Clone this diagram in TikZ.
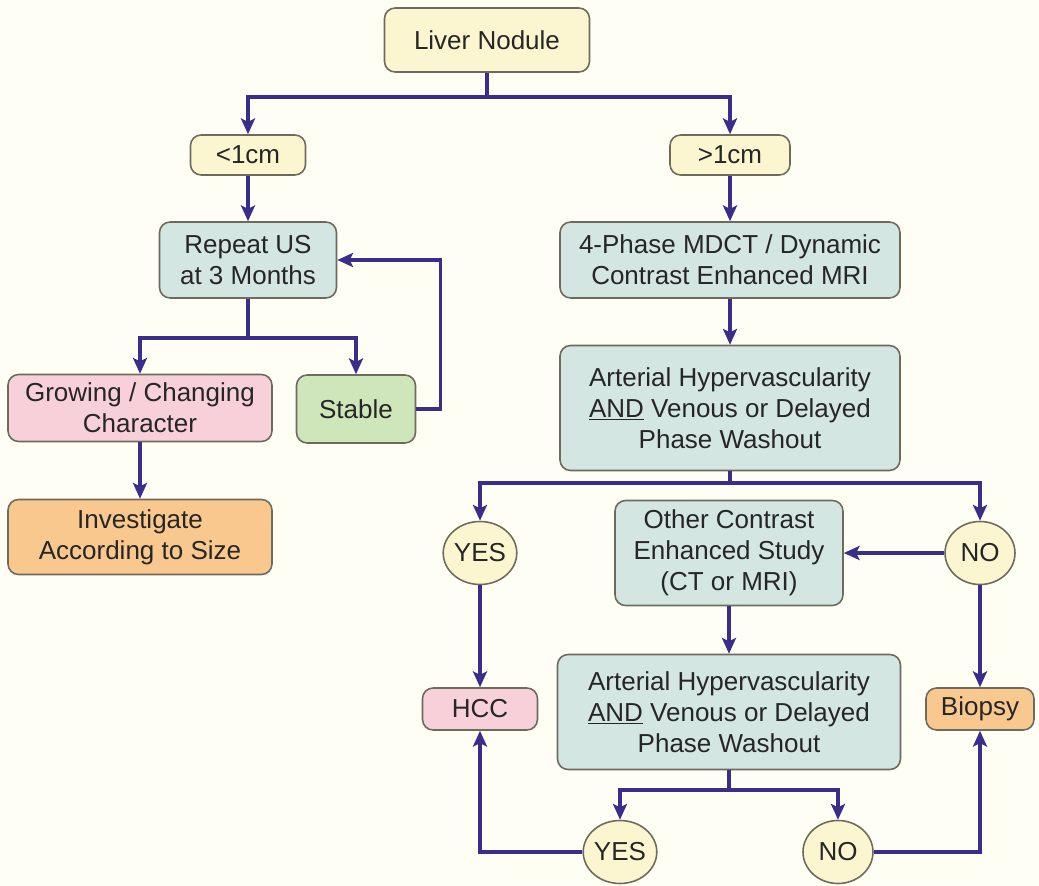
\documentclass[tikz,border=0pt]{standalone}
\usepackage{fontspec}
\setmainfont{Liberation Sans}
\usetikzlibrary{arrows.meta,shapes.geometric}

\definecolor{bgcream}{HTML}{FEFEF5}
\definecolor{boxline}{HTML}{6E6A5C}
\definecolor{flowblue}{HTML}{3A2D8C}
\definecolor{yellowfill}{HTML}{FCF6D0}
\definecolor{tealfill}{HTML}{D3E6E1}
\definecolor{pinkfill}{HTML}{F7D0D9}
\definecolor{greenfill}{HTML}{CFE5BA}
\definecolor{orangefill}{HTML}{F8C88E}
\definecolor{textgray}{HTML}{262626}

\begin{document}
\begin{tikzpicture}
          [x=0.02cm,y=-0.02cm,
           every node/.style={draw=boxline,line width=0.9pt,rounded corners=6pt,align=center,
             text=textgray,font=\fontsize{14.8}{17.5}\selectfont,inner sep=0pt},
           yellowbox/.style={fill=yellowfill},
           tealbox/.style={fill=tealfill},
           pinkbox/.style={fill=pinkfill},
           greenbox/.style={fill=greenfill},
           orangebox/.style={fill=orangefill},
           answer/.style={ellipse,fill=yellowfill,rounded corners=0pt,minimum width=1.4cm,minimum height=1.26cm},
           arr/.style={draw=flowblue,line width=1.8pt,-{Stealth[length=9pt,width=8pt,inset=2pt]}},
           conn/.style={draw=flowblue,line width=1.8pt}]

          \fill[bgcream] (0,0) rectangle (1039,886);

          \node[yellowbox,minimum width=4.1cm,minimum height=1.28cm] (liver) at (487, 40) {Liver Nodule};
          \node[yellowbox,minimum width=2.3cm,minimum height=0.8cm] (small) at (248, 155) {<1cm};
          \node[yellowbox,minimum width=2.4cm,minimum height=0.8cm] (large) at (730, 155) {>1cm};
          \node[tealbox,minimum width=3.54cm,minimum height=1.52cm] (repeat) at (248, 260) {Repeat US\\at 3 Months};
          \node[tealbox,minimum width=6.8cm,minimum height=1.52cm] (mdct) at (730, 260) {4-Phase MDCT / Dynamic\\Contrast Enhanced MRI};
          \node[pinkbox,minimum width=5.28cm,minimum height=1.34cm] (growing) at (140, 408) {Growing / Changing\\Character};
          \node[greenbox,minimum width=2.38cm,minimum height=1.36cm] (stable) at (356, 409) {Stable};
          \node[tealbox,minimum width=6.8cm,minimum height=2.5cm] (washout) at (730, 408) {Arterial Hypervascularity\\\underline{AND} Venous or Delayed\\Phase Washout};
          \node[orangebox,minimum width=5.28cm,minimum height=1.5cm] (investigate) at (140, 537) {Investigate\\According to Size};
          \node[answer] (yes1) at (480, 553) {YES};
          \node[answer] (no1) at (980, 553) {NO};
          \node[tealbox,minimum width=4.56cm,minimum height=2.1cm] (other) at (729, 553) {Other Contrast\\Enhanced Study\\(CT or MRI)};
          \node[pinkbox,minimum width=2.3cm,minimum height=0.84cm] (hcc) at (480, 709) {HCC};
          \node[orangebox,minimum width=2.16cm,minimum height=0.84cm] (biopsy) at (980, 709) {Biopsy};
          \node[tealbox,minimum width=6.86cm,minimum height=2.3cm] (washouttwo) at (729, 712) {Arterial Hypervascularity\\\underline{AND} Venous or Delayed\\Phase Washout};
          \node[answer] (yes2) at (620, 852) {YES};
          \node[answer] (no2) at (838, 852) {NO};

          \coordinate (split1) at (487, 97);
          \coordinate (split2) at (248, 338);
          \coordinate (split3) at (730, 483);
          \coordinate (split4) at (729, 790);

          \draw[conn] (liver) -- (split1);
          \draw[arr] (split1) -| (small);
          \draw[arr] (split1) -| (large);
          \draw[arr] (small) -- (repeat);
          \draw[arr] (large) -- (mdct);
          \draw[conn] (repeat) -- (split2);
          \draw[arr] (split2) -| (growing);
          \draw[arr] (split2) -| (stable);
          \draw[arr] (stable.east) -- ++(24,0) |- (repeat.east);
          \draw[arr] (growing) -- (investigate);
          \draw[arr] (mdct) -- (washout);
          \draw[conn] (washout) -- (split3);
          \draw[arr] (split3) -| (yes1);
          \draw[arr] (split3) -| (no1);
          \draw[arr] (no1) -- (other);
          \draw[arr] (yes1) -- (hcc);
          \draw[arr] (no1) -- (biopsy);
          \draw[arr] (other) -- (washouttwo);
          \draw[conn] (washouttwo) -- (split4);
          \draw[arr] (split4) -| (yes2);
          \draw[arr] (split4) -| (no2);
          \draw[arr] (yes2) -| (hcc);
          \draw[arr] (no2) -| (biopsy);
        \end{tikzpicture}
\end{document}
